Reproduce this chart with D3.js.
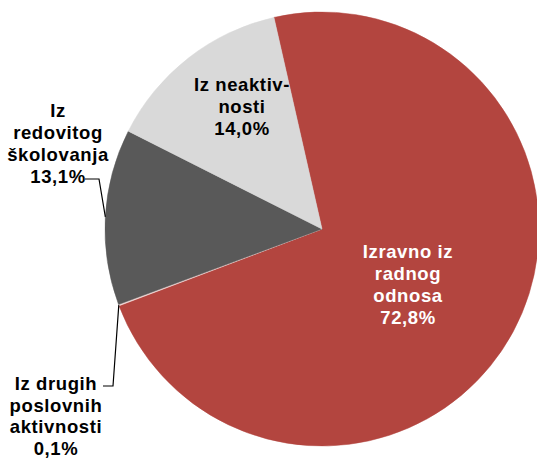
<!DOCTYPE html>
<html>
<head>
<meta charset="utf-8">
<script src="https://cdn.jsdelivr.net/npm/d3@7"></script>
<style>
html,body{margin:0;padding:0;background:#fff;}
svg{display:block;}
text{font-family:"Liberation Sans",Arial,sans-serif;font-weight:bold;font-size:18.5px;letter-spacing:0.6px;}
</style>
</head>
<body>
<svg id="chart" width="537" height="459"></svg>
<script>
const categories = ["Izravno iz radnog odnosa", "Iz drugih poslovnih aktivnosti", "Iz redovitog školovanja", "Iz neaktivnosti"];
const values = [72.8, 0.1, 13.1, 14.0];
const valueLabels = ["72,8%", "0,1%", "13,1%", "14,0%"];
const labelLines = [
  ["Izravno iz", "radnog", "odnosa"],
  ["Iz drugih", "poslovnih", "aktivnosti"],
  ["Iz", "redovitog", "školovanja"],
  ["Iz neaktiv-", "nosti"]
];
const colors = ["#B3453F", "#F2DCDB", "#595959", "#D9D9D9"];

// layout
const cx = 322, cy = 229, R = 217;
const startDeg = -12.8;
const labelPos = [
  {x: 408, y: 258, lh: 22, fill: "#fff"},
  {x: 56, y: 390, lh: 21.5, fill: "#000", leader: [[113, 386], [103, 386]]},
  {x: 58, y: 117, lh: 22, fill: "#000", leader: [[99, 179], [85, 179]]},
  {x: 242, y: 91, lh: 22, fill: "#000"}
];

const svg = d3.select("#chart");
const g = svg.append("g").attr("transform", `translate(${cx},${cy})`);
const start = startDeg * Math.PI / 180;
const pie = d3.pie().sort(null).value(d => d).startAngle(start).endAngle(start + 2 * Math.PI);
const arcs = pie(values);
const arc = d3.arc().innerRadius(0).outerRadius(R);

g.selectAll("path").data(arcs).enter().append("path")
  .attr("d", arc)
  .attr("fill", (d, i) => colors[i])
  .attr("stroke", (d, i) => colors[i])
  .attr("stroke-width", 0.5);

// leader lines
arcs.forEach((a, i) => {
  const lp = labelPos[i];
  if (!lp.leader) return;
  const mid = (a.startAngle + a.endAngle) / 2;
  const ex = cx + R * Math.sin(mid), ey = cy - R * Math.cos(mid);
  const pts = [[ex, ey]].concat(lp.leader);
  svg.append("path")
    .attr("d", d3.line()(pts))
    .attr("fill", "none")
    .attr("stroke", "#000")
    .attr("stroke-width", 1.2);
});

// labels
arcs.forEach((a, i) => {
  const lp = labelPos[i];
  const lines = labelLines[i].concat([valueLabels[i]]);
  const t = svg.append("text")
    .attr("text-anchor", "middle")
    .attr("fill", lp.fill);
  lines.forEach((s, k) => {
    t.append("tspan").attr("x", lp.x).attr("y", lp.y + k * lp.lh).text(s);
  });
});
</script>
</body>
</html>
